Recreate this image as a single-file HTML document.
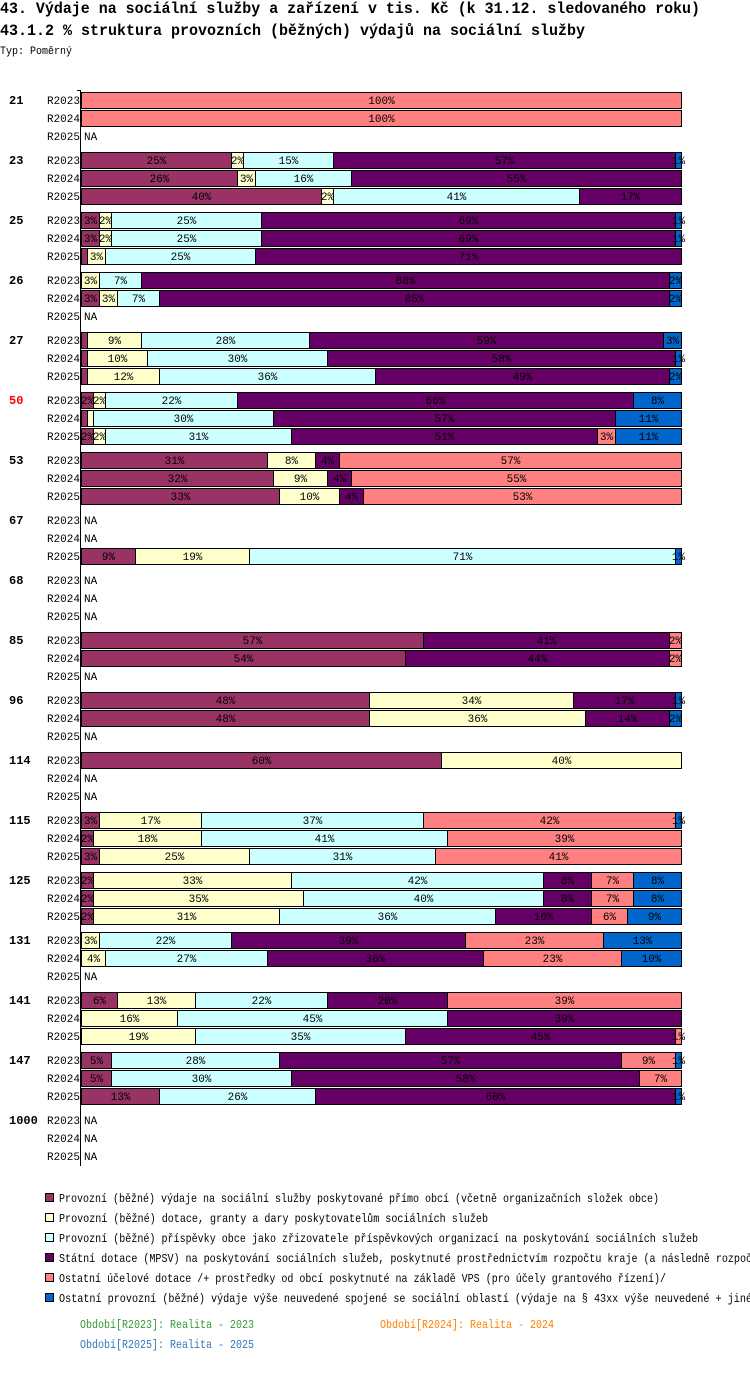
<!DOCTYPE html>
<html><head><meta charset="utf-8"><style>
body{margin:0;background:#fff;width:750px;height:1382px;overflow:hidden}
svg{display:block}
text{font-family:"Liberation Mono",monospace}
</style></head><body>
<svg id="c" width="750" height="1382"></svg>
<script>
const groups=["21","23","25","26","27","50","53","67","68","85","96","114","115","125","131","141","147","1000"];
const periods=["R2023","R2024","R2025"];
const colors=["#993366","#ffffcc","#ccffff","#660066","#ff8080","#0066cc"];
const values=[
[[0,0,0,0,100,0],[0,0,0,0,100,0],null],
[[25,2,15,57,0,1],[26,3,16,55,0,0],[40,2,41,17,0,0]],
[[3,2,25,69,0,1],[3,2,25,69,0,1],[1,3,25,71,0,0]],
[[0,3,7,88,0,2],[3,3,7,85,0,2],null],
[[1,9,28,59,0,3],[1,10,30,58,0,1],[1,12,36,49,0,2]],
[[2,2,22,66,0,8],[1,1,30,57,0,11],[2,2,31,51,3,11]],
[[31,8,0,4,57,0],[32,9,0,4,55,0],[33,10,0,4,53,0]],
[null,null,[9,19,71,0,0,1]],
[null,null,null],
[[57,0,0,41,2,0],[54,0,0,44,2,0],null],
[[48,34,0,17,0,1],[48,36,0,14,0,2],null],
[[60,40,0,0,0,0],null,null],
[[3,17,37,0,42,1],[2,18,41,0,39,0],[3,25,31,0,41,0]],
[[2,33,42,8,7,8],[2,35,40,8,7,8],[2,31,36,16,6,9]],
[[0,3,22,39,23,13],[0,4,27,36,23,10],null],
[[6,13,22,20,39,0],[0,16,45,39,0,0],[0,19,35,45,1,0]],
[[5,0,28,57,9,1],[5,0,30,58,7,0],[13,0,26,60,0,1]],
[null,null,null]
];
const legendLabels=[
"Provozní (běžné) výdaje na sociální služby poskytované přímo obcí (včetně organizačních složek obce)",
"Provozní (běžné) dotace, granty a dary poskytovatelům sociálních služeb",
"Provozní (běžné) příspěvky obce jako zřizovatele příspěvkových organizací na poskytování sociálních služeb",
"Státní dotace (MPSV) na poskytování sociálních služeb, poskytnuté prostřednictvím rozpočtu kraje (a následně rozpoč",
"Ostatní účelové dotace /+ prostředky od obcí poskytnuté na základě VPS (pro účely grantového řízení)/",
"Ostatní provozní (běžné) výdaje výše neuvedené spojené se sociální oblastí (výdaje na § 43xx výše neuvedené + jiné"
];
const legendLen=[600,429,639,693,607,693];
const svg=document.getElementById('c');
const NS='http://www.w3.org/2000/svg';
function mk(tag,attrs,txt){const e=document.createElementNS(NS,tag);for(const k in attrs)e.setAttribute(k,attrs[k]);if(txt!=null)e.textContent=txt;svg.appendChild(e);return e;}
const x0=81,W=600;
const xs=v=>v*W/100;
const gy=i=>92+60*i;
let t;
t=mk('text',{x:0,y:13,'font-size':16,'font-weight':'bold',textLength:700,lengthAdjust:'spacingAndGlyphs'},"43. Výdaje na sociální služby a zařízení v tis. Kč (k 31.12. sledovaného roku)");

t=mk('text',{x:0,y:35,'font-size':16,'font-weight':'bold',textLength:585,lengthAdjust:'spacingAndGlyphs'},"43.1.2 % struktura provozních (běžných) výdajů na sociální služby");

t=mk('text',{x:0,y:54,'font-size':11,textLength:72,lengthAdjust:'spacingAndGlyphs'},"Typ: Poměrný");

let a=mk('line',{x1:80.5,y1:90,x2:80.5,y2:1166,stroke:'#000'});

mk('line',{x1:77,y1:90.5,x2:80,y2:90.5,stroke:'#000'});
groups.forEach((g,i)=>{
  const gl=mk('text',{x:9,y:gy(i)+12,'font-size':12,'font-weight':'bold',fill:g==="50"?"#ff0000":"#000"},g);
  
  periods.forEach((p,j)=>{
    const y=gy(i)+18*j;
    const pl=mk('text',{x:80,y:y+12,'font-size':11,'text-anchor':'end'},p);
    
    const row=values[i][j];
    if(!row){const na=mk('text',{x:84,y:y+12,'font-size':11},"NA");
      return;}
    let cx=x0;
    row.forEach((v,k)=>{
      if(v<=0)return;
      const w=xs(v);
      const r=mk('rect',{x:cx+0.5,y:y+0.5,width:w,height:16,fill:colors[k],stroke:'#000','stroke-width':1});
      
      
      if(v>=2||cx+w>=x0+W-1){
        const lt=mk('text',{x:cx+w/2+0.5,y:y+12,'font-size':11,'text-anchor':'middle'},v+"%");
        
      }
      cx+=w;
    });
  });
});
legendLabels.forEach((l,k)=>{
  const y=1193+20*k;
  const s=mk('rect',{x:45.5,y:y+0.5,width:8,height:8,fill:colors[k],stroke:'#000'});
  
  const lt=mk('text',{x:59,y:y+9,'font-size':12,textLength:legendLen[k],lengthAdjust:'spacingAndGlyphs'},l);
  
});
const per=[["Období[R2023]: Realita - 2023",80,1328,"#339933"],["Období[R2024]: Realita - 2024",380,1328,"#ff8000"],["Období[R2025]: Realita - 2025",80,1348,"#3377bb"]];
per.forEach((p,k)=>{
  const e=mk('text',{x:p[1],y:p[2],'font-size':12,fill:p[3],textLength:174,lengthAdjust:'spacingAndGlyphs'},p[0]);
  
});
</script>
</body></html>
